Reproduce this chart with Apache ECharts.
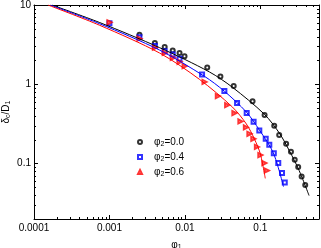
<!DOCTYPE html>
<html><head><meta charset="utf-8">
<script src="https://cdn.jsdelivr.net/npm/echarts@6/dist/echarts.min.js"></script>
<style>html,body{margin:0;padding:0;background:#fff}#c{width:321px;height:248px}</style>
</head><body><div id="c"></div>
<script>
// ---- data ----
const xTickLabels = {'-4':'0.0001','-3':'0.001','-2':'0.01','-1':'0.1'};
const yTickLabels = {'-1':'0.1','0':'1','1':'10'};
const seriesNames = ['φ2=0.0','φ2=0.4','φ2=0.6'];
const legendParts = [['φ','2','=0.0'],['φ','2','=0.4'],['φ','2','=0.6']];

const circX = [0.0025,0.004,0.0054,0.0069,0.0085,0.0099,0.0198,0.0296,0.0444,0.079,0.114,0.153,0.178,0.22,0.255,0.286,0.318,0.353,0.394];
const circY = [4.22,3.32,2.96,2.66,2.49,2.26,1.63,1.25,0.95,0.61,0.41,0.30,0.23,0.178,0.141,0.112,0.0904,0.0688,0.0535];
const sqX = [0.001,0.0025,0.004,0.0054,0.0069,0.0085,0.0169,0.0334,0.0492,0.066,0.0815,0.097,0.118,0.1316,0.151,0.173,0.194,0.211];
const sqY = [5.9,3.92,3.03,2.61,2.37,2.10,1.33,0.82,0.58,0.434,0.338,0.262,0.205,0.173,0.135,0.1015,0.076,0.0579];
const triX = [0.001,0.0025,0.004,0.0054,0.0069,0.0085,0.0099,0.0182,0.0273,0.0363,0.0453,0.0544,0.0643,0.0716,0.0807,0.090,0.1,0.113,0.122];
const triY = [6.04,3.76,2.90,2.49,2.16,1.92,1.69,1.07,0.71,0.546,0.434,0.34,0.286,0.237,0.205,0.162,0.128,0.1015,0.0818];

const lineBX = [1.73e-4,7.45e-4,4.62e-3,0.0212,0.0427,0.113,0.178,0.2415,0.327,0.443];
const lineBY = [10,6.0,2.90,1.43,0.917,0.42,0.244,0.1466,0.0818,0.0395];
const lineUX = [1.63e-4,7.45e-4,4.62e-3,0.0182,0.0334,0.0653,0.097,0.1486,0.203];
const lineUY = [10,5.79,2.70,1.26,0.818,0.447,0.266,0.137,0.0511];
const lineRX = [1.53e-4,7.45e-4,4.62e-3,0.0156,0.0427,0.0653,0.0834,0.1,0.1164];
const lineRY = [10,5.54,2.48,1.155,0.516,0.316,0.205,0.133,0.065];

const xMin = 0.0001, xMax = 0.6, yMin = 0.02, yMax = 10;
// ---------------------------------------

const zip = (a,b) => a.map((v,i)=>[v,b[i]]);
const FONT = 'Liberation Sans';
function decLabel(map){ return function(v){ const l=Math.log10(v); const r=Math.round(l); return Math.abs(l-r)<1e-6 && map[r]!==undefined ? map[r] : ''; }; }

const xMinor=[], yMinor=[];
for(let e=-4;e<=0;e++) for(let m=2;m<=9;m++){ const v=m*Math.pow(10,e); if(v>xMin&&v<xMax) xMinor.push([v,yMin]); }
for(let e=-2;e<=1;e++) for(let m=2;m<=9;m++){ const v=m*Math.pow(10,e); if(v>yMin&&v<yMax) yMinor.push([xMin,v]); }

const axisCommon = {
  type:'log', logBase:10,
  axisLine:{show:true,lineStyle:{color:'#000',width:1}},
  axisTick:{show:true,inside:true,length:4,lineStyle:{color:'#000'}},
  splitLine:{show:false}, minorTick:{show:false}
};
const richSub = {a:{fontSize:10,fontFamily:FONT,color:'#000',lineHeight:12},s:{fontSize:7,fontFamily:FONT,color:'#000',lineHeight:7,verticalAlign:'bottom',padding:[6,0,0,0]}};

const chart = echarts.init(document.getElementById('c'), null, {renderer:'canvas'});
chart.setOption({
  animation:false,
  textStyle:{fontFamily:FONT},
  grid:{left:34,right:2,top:5,bottom:29,containLabel:false,outerBoundsMode:'none'},
  xAxis:[
    Object.assign({}, axisCommon, {min:xMin,max:xMax,position:'bottom',
      axisLabel:{show:true,formatter:decLabel(xTickLabels),fontSize:10,color:'#000',margin:4,fontFamily:FONT,showMinLabel:true,showMaxLabel:true},
      name:'{a|φ}{s|1}', nameLocation:'middle', nameGap:16,
      nameTextStyle:{rich:richSub}
    }),
    Object.assign({}, axisCommon, {min:xMin,max:xMax,position:'top',axisLabel:{show:false}})
  ],
  yAxis:[
    Object.assign({}, axisCommon, {min:yMin,max:yMax,position:'left',
      axisLabel:{show:true,formatter:decLabel(yTickLabels),fontSize:10,color:'#000',margin:3,fontFamily:FONT,showMinLabel:true,showMaxLabel:true},
      name:'{a|δ}{s|c}{a|/D}{s|1}', nameLocation:'middle', nameGap:22, nameRotate:90, nameMoveOverlap:false,
      nameTextStyle:{rich:richSub}
    }),
    Object.assign({}, axisCommon, {min:yMin,max:yMax,position:'right',axisLabel:{show:false}})
  ],
  legend:{
    orient:'vertical', left:132, top:130, itemWidth:4, itemHeight:4, itemGap:2,
    data:seriesNames,
    formatter:function(n){ const p=legendParts[seriesNames.indexOf(n)]; return '{a|'+p[0]+'}{s|'+p[1]+'}{a|'+p[2]+'}'; },
    textStyle:{padding:[0,0,0,7],rich:richSub}
  },
  series:[
    {type:'line',name:'fit0',data:zip(lineBX,lineBY),showSymbol:false,smooth:0.3,lineStyle:{color:'#000',width:1},itemStyle:{color:'#000'},clip:true,silent:true},
    {type:'line',name:'fit4',data:zip(lineUX,lineUY),showSymbol:false,smooth:0.3,lineStyle:{color:'#0000ff',width:1},itemStyle:{color:'#0000ff'},clip:true,silent:true},
    {type:'line',name:'fit6',data:zip(lineRX,lineRY),showSymbol:false,smooth:0.3,lineStyle:{color:'#ff0000',width:1},itemStyle:{color:'#ff0000'},clip:true,silent:true},
    {type:'scatter',name:seriesNames[0],data:zip(circX,circY),symbol:'emptyCircle',symbolSize:4,itemStyle:{color:'#000',borderWidth:0.8}},
    {type:'scatter',name:seriesNames[1],data:zip(sqX,sqY),symbol:'emptyRect',symbolSize:4,itemStyle:{color:'#0000ff',borderWidth:0.8}},
    {type:'scatter',name:seriesNames[2],data:zip(triX,triY),symbol:'emptyTriangle',symbolSize:4,symbolRotate:-90,itemStyle:{color:'#ff0000',borderWidth:0.8}},
    {type:'custom',name:'xminor',data:xMinor,silent:true,clip:false,z:5,
      renderItem:function(params,api){
        const v=api.value(0); const b=api.coord([v,yMin]); const t=api.coord([v,yMax]);
        const x=Math.round(b[0])+0.5;
        return {type:'group',children:[
          {type:'line',shape:{x1:x,y1:b[1],x2:x,y2:b[1]-2},style:{stroke:'#000',lineWidth:1}},
          {type:'line',shape:{x1:x,y1:t[1],x2:x,y2:t[1]+2},style:{stroke:'#000',lineWidth:1}}
        ]};
      }},
    {type:'custom',name:'yminor',data:yMinor,silent:true,clip:false,z:5,
      renderItem:function(params,api){
        const v=api.value(1); const l=api.coord([xMin,v]); const r=api.coord([xMax,v]);
        const y=Math.round(l[1])+0.5;
        return {type:'group',children:[
          {type:'line',shape:{x1:l[0],y1:y,x2:l[0]+2,y2:y},style:{stroke:'#000',lineWidth:1}},
          {type:'line',shape:{x1:r[0],y1:y,x2:r[0]-2,y2:y},style:{stroke:'#000',lineWidth:1}}
        ]};
      }}
  ]
});
</script></body></html>
